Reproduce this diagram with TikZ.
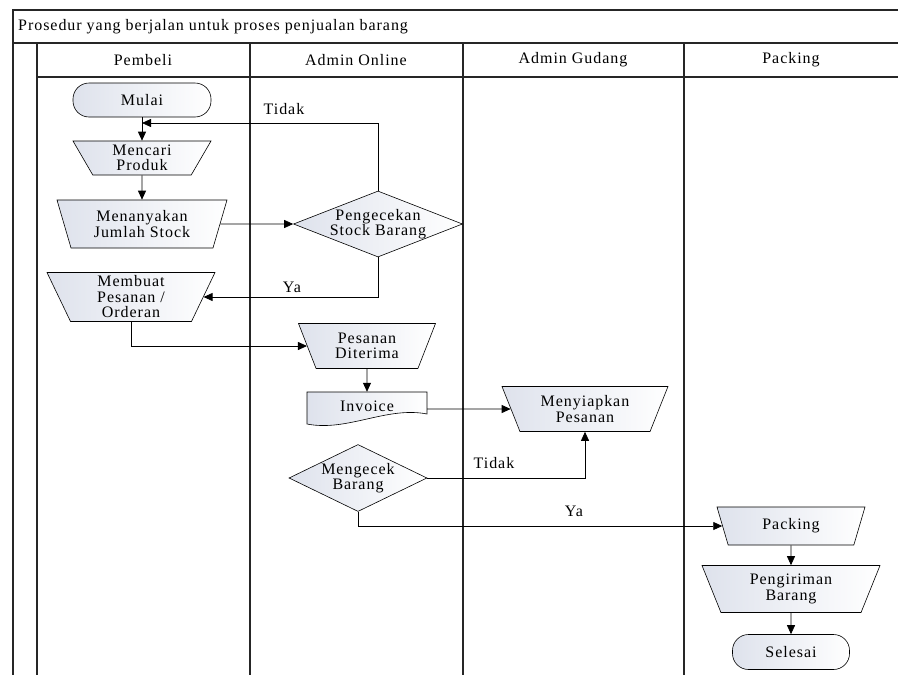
\documentclass[tikz,border=0pt]{standalone}
\usepackage{fontspec}
\setmainfont[LetterSpace=6]{Liberation Serif}
\usetikzlibrary{shapes.geometric,arrows.meta,positioning}
\definecolor{isi}{RGB}{222,226,236}

\begin{document}
\begin{tikzpicture}[x=1pt, y=-1pt, node distance=63pt, >={Triangle[length=9pt,width=8pt]},
  font=\fontsize{16}{15.5}\selectfont,
  every node/.style={align=center, inner sep=1pt},
  isian/.style={draw, line width=0.6pt, left color=isi, right color=white},
  terminal/.style={isian, rectangle, rounded corners=16pt},
  manual/.style={isian, trapezium, trapezium stretches body, shape border rotate=180},
  keputusan/.style={isian, diamond, inner xsep=-8pt},
  garis/.style={line width=1.2pt, draw=black!85},
  alur/.style={line width=0.8pt, ->}]
\useasboundingbox (0,0) rectangle (898,675);

% kolom-kolom
\draw[garis] (898,10) -- (13,10) -- (13,675);
\draw[garis] (13,43) -- (898,43);
\draw[garis] (37,77) -- (898,77);
\foreach \x in {37,250,463,684} \draw[garis] (\x,43) -- (\x,675);

\node (judul) [anchor=west] at (17,27) {Prosedur yang berjalan untuk proses penjualan barang};
\node (pembeli) at (143,60) {Pembeli};
\node (online) at (356,60) {Admin Online};
\node (gudang) at (573,60) {Admin Gudang};
\node (lpacking) at (791,60) {Packing};

\node (mulai) [terminal, minimum width=138pt, minimum height=34pt] at (142,100) {Mulai};
\node (cari) [manual, minimum width=138pt, minimum height=34pt, trapezium angle=55] at (142,158) {Mencari\\Produk};
\node (tanya) [manual, minimum width=170pt, minimum height=48pt, trapezium angle=64] at (142,224) {Menanyakan\\Jumlah Stock};
\node (pesan) [manual, minimum width=168pt, minimum height=49pt, trapezium angle=62] at (131,297) {Membuat\\Pesanan /\\Orderan};
\node (cekstok) [keputusan, aspect=2.6, minimum width=169pt, minimum height=66pt] at (378,224) {Pengecekan\\Stock Barang};

\node (terima) [manual, minimum width=137pt, minimum height=45pt, trapezium angle=58] at (367,346) {Pesanan\\Diterima};
\path (terima) ++(0,63) coordinate (posinv);
\draw[isian] ([shift={(-60,-17)}]posinv) -- ++(120,0) -- ++(0,22)
  .. controls +(-40,-8) and +(40,8) .. ([shift={(-60,15)}]posinv) -- cycle;
\node (invoice) [minimum width=120pt, minimum height=34pt, text depth=6pt] at (posinv) {Invoice};
\node (siapkan) [manual, minimum width=166pt, minimum height=45pt, trapezium angle=58] at (585,409) {Menyiapkan\\Pesanan};
\node (cekbarang) [keputusan, aspect=2, minimum width=138pt, minimum height=67pt] at (358,478) {Mengecek\\Barang};

\node (packing) [manual, minimum width=148pt, minimum height=38pt, trapezium angle=56] at (791,526) {Packing};
\node (kirim) [manual, below of=packing, minimum width=178pt, minimum height=47pt, trapezium angle=59] {Pengiriman\\Barang};
\node (selesai) [terminal, below of=kirim, minimum width=117pt, minimum height=35pt] {Selesai};

\node (tidak1) at (284,109) {Tidak};
\node (ya1) at (292,287) {Ya};
\node (tidak2) at (494,463) {Tidak};
\node (ya2) at (574,511) {Ya};

\coordinate (balik) at (142,123);
\draw[alur] (mulai) -- (cari);
\draw[alur] (cari) -- (tanya);
\draw[alur] (tanya) -- (cekstok);
\draw[alur] (cekstok.north) |- (balik);
\draw[alur] (cekstok.south) |- (pesan.east);
\draw[alur] (pesan.south) |- (terima.west);
\draw[alur] (terima) -- (invoice);
\draw[alur] (invoice.east) -- (siapkan.west);
\draw[alur] (cekbarang.east) -| (siapkan.south);
\draw[alur] (cekbarang.south) |- (packing.west);
\draw[alur] (packing) -- (kirim);
\draw[alur] (kirim) -- (selesai);
\end{tikzpicture}
\end{document}
